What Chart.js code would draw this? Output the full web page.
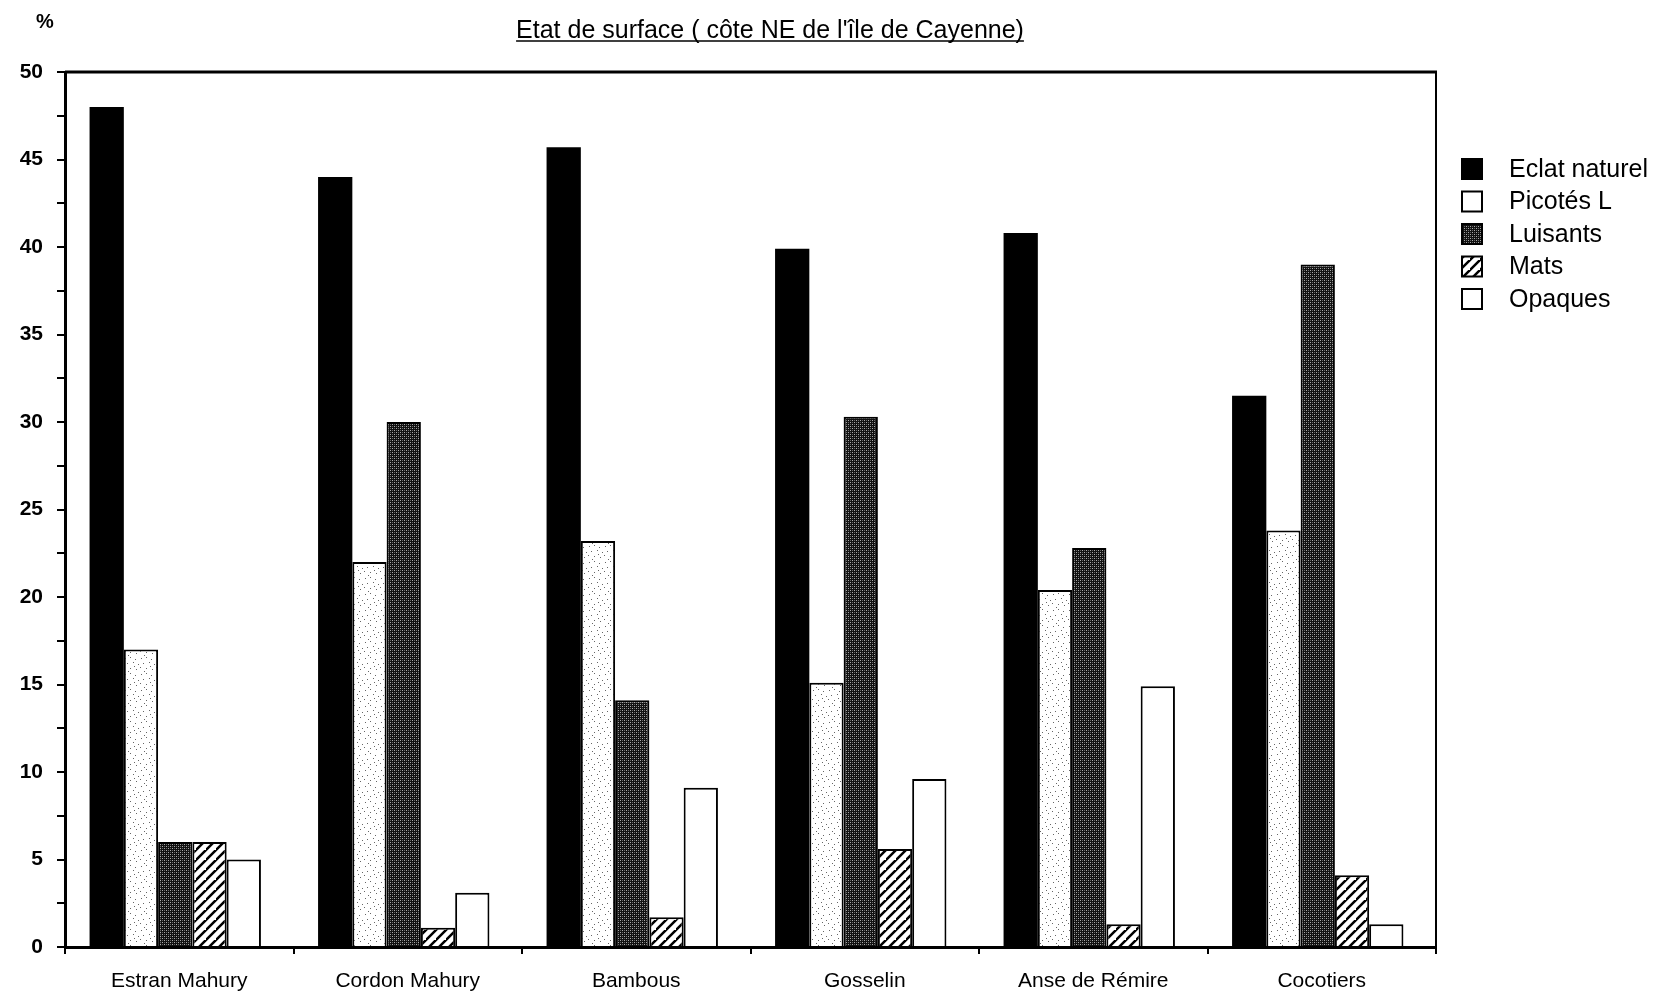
<!DOCTYPE html>
<html>
<head>
<meta charset="utf-8">
<script src="https://cdn.jsdelivr.net/npm/chart.js@4"></script>
<style>
  html, body { margin: 0; padding: 0; background: #fff; }
  #wrap { width: 1658px; height: 996px; }
</style>
</head>
<body>
<div id="wrap"><canvas id="myChart"></canvas></div>
<script>
Chart.defaults.font.family = '"Liberation Sans", Arial, sans-serif';
Chart.defaults.color = '#000';

var categories = ['Estran Mahury', 'Cordon Mahury', 'Bambous', 'Gosselin', 'Anse de Rémire', 'Cocotiers'];
var seriesNames = ['Eclat naturel', 'Picotés L', 'Luisants', 'Mats', 'Opaques'];
var eclatNaturel = [48, 44, 45.7, 39.9, 40.8, 31.5];
var picotesL = [17, 22, 23.2, 15.1, 20.4, 23.8];
var luisants = [6, 30, 14.1, 30.3, 22.8, 39];
var mats = [6, 1.1, 1.7, 5.6, 1.3, 4.1];
var opaques = [5, 3.1, 9.1, 9.6, 14.9, 1.3];
var yMax = 50;
var yStep = 5;

var title = "Etat de surface ( côte NE de l'île de Cayenne)";

// fill patterns
function makePattern(size, drawFn) {
  var c = document.createElement('canvas');
  c.width = size; c.height = size;
  var g = c.getContext('2d');
  drawFn(g, size);
  return g.createPattern(c, 'repeat');
}
var ctxMain = document.getElementById('myChart').getContext('2d');

var stipple = makePattern(16, function (g, s) {
  g.fillStyle = '#fff'; g.fillRect(0, 0, s, s);
  g.fillStyle = '#666';
  var dots = [[1,2],[6,1],[11,3],[3,7],[9,6],[14,8],[0,11],[6,12],[12,13],[4,15],[10,10]];
  dots.forEach(function (d) { g.fillRect(d[0], d[1], 1, 1); });
});
var checker = makePattern(4, function (g, s) {
  g.fillStyle = '#111'; g.fillRect(0, 0, s, s);
  g.fillStyle = '#aaa';
  g.fillRect(0, 0, 1, 1); g.fillRect(2, 2, 1, 1);
  g.fillStyle = '#666';
  g.fillRect(2, 0, 1, 1); g.fillRect(0, 2, 1, 1);
});
var diagonal = makePattern(10, function (g, s) {
  g.fillStyle = '#fff'; g.fillRect(0, 0, s, s);
  g.strokeStyle = '#000'; g.lineWidth = 2.5;
  g.beginPath();
  g.moveTo(-2, s + 2); g.lineTo(s + 2, -2);
  g.moveTo(-2 - s, s + 2); g.lineTo(2, -2);
  g.moveTo(s - 2, 2 * s + 2); g.lineTo(2 * s + 2, s - 2);
  g.stroke();
});

var seriesData = [eclatNaturel, picotesL, luisants, mats, opaques];
var fills = ['#000', stipple, checker, diagonal, '#fff'];
var legendFills = ['#000', '#fff', checker, diagonal, '#fff'];

var datasets = seriesNames.map(function (name, i) {
  return {
    label: name,
    data: seriesData[i],
    backgroundColor: fills[i],
    borderColor: '#000',
    borderWidth: i === 0 ? 0 : 2,
    barPercentage: 1,
    categoryPercentage: 0.75
  };
});

// the original groups sit a few pixels left of the category centre
var barShift = {
  id: 'barShift',
  beforeDatasetsDraw: function (chart) { chart.ctx.save(); chart.ctx.translate(-4, 0); },
  afterDatasetsDraw: function (chart) { chart.ctx.restore(); }
};

var decorPlugin = {
  id: 'decor',
  afterDraw: function (chart) {
    var c = chart.ctx, a = chart.chartArea;
    c.save();
    // frame top and right
    c.strokeStyle = '#000';
    c.lineWidth = 3;
    c.beginPath(); c.moveTo(a.left, a.top); c.lineTo(a.right + 1, a.top); c.stroke();
    c.lineWidth = 2;
    c.beginPath(); c.moveTo(a.right, a.top); c.lineTo(a.right, a.bottom); c.stroke();

    // title underlined
    c.fillStyle = '#000';
    c.font = '25px "Liberation Sans", Arial, sans-serif';
    c.textAlign = 'center';
    c.textBaseline = 'alphabetic';
    var tx = 770, ty = 38;
    c.fillText(title, tx, ty);
    var w = c.measureText(title).width;
    c.lineWidth = 1.5;
    c.beginPath(); c.moveTo(tx - w / 2, ty + 3); c.lineTo(tx + w / 2, ty + 3); c.stroke();

    // % label
    c.font = 'bold 20px "Liberation Sans", Arial, sans-serif';
    c.textBaseline = 'middle';
    c.fillText('%', 45, 22);

    // legend
    c.font = '25px "Liberation Sans", Arial, sans-serif';
    c.textAlign = 'left';
    chart.data.datasets.forEach(function (ds, i) {
      var y = 169 + i * 32.5;
      c.fillStyle = legendFills[i];
      c.fillRect(1462, y - 10, 20, 20);
      c.lineWidth = 2;
      c.strokeStyle = '#000';
      c.strokeRect(1462, y - 10, 20, 20);
      c.fillStyle = '#000';
      c.fillText(ds.label, 1509, y + 1);
    });
    c.restore();
  }
};

var myChart = new Chart(ctxMain, {
  type: 'bar',
  data: {
    labels: categories,
    datasets: datasets
  },
  options: {
    responsive: true,
    maintainAspectRatio: false,
    animation: false,
    layout: { padding: { top: 72, right: 222, left: 0, bottom: 0 } },
    plugins: {
      legend: { display: false },
      tooltip: { enabled: false }
    },
    scales: {
      x: {
        afterFit: function (s) { s.height = 49; },
        border: { color: '#000', width: 3 },
        grid: {
          display: true,
          drawOnChartArea: false,
          color: '#000',
          lineWidth: 2,
          tickLength: 7
        },
        ticks: {
          padding: 15,
          font: { size: 21 }
        }
      },
      y: {
        min: 0,
        max: yMax,
        afterFit: function (s) { s.width = 65; },
        border: { color: '#000', width: 3 },
        grid: {
          display: true,
          drawOnChartArea: false,
          color: '#000',
          lineWidth: 2,
          tickLength: 8
        },
        ticks: {
          stepSize: yStep / 2,
          padding: 14,
          font: { size: 21, weight: 'bold' },
          callback: function (v) { return v % yStep === 0 ? v : ''; }
        }
      }
    }
  },
  plugins: [barShift, decorPlugin]
});
</script>
</body>
</html>
